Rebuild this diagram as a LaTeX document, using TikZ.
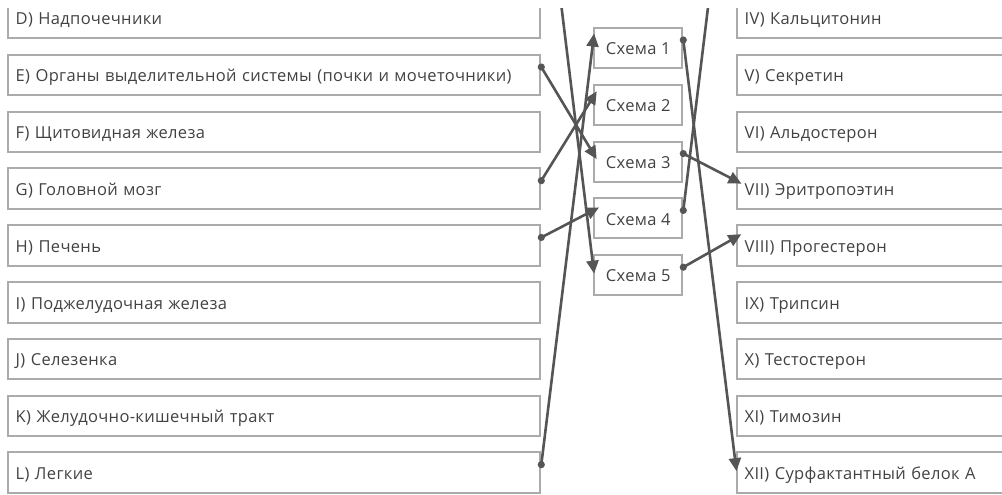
\documentclass[tikz,border=0pt]{standalone}
\usepackage{fontspec}
\setmainfont{Open Sans}[LetterSpace=2]
\usetikzlibrary{arrows.meta,calc}
\definecolor{boxgray}{HTML}{ABABAB}
\definecolor{txtgray}{HTML}{424242}
\definecolor{linegray}{HTML}{555555}
\tikzset{
  boxbase/.style={draw=boxgray, line width=2pt, inner ysep=0pt, inner xsep=8pt, text=txtgray,
    font=\fontsize{16.5}{19}\selectfont, text height=13.5pt, text depth=0pt, anchor=north west},
  lbox/.style={boxbase, minimum height=40.5pt, text width=516.6pt, align=left},
  rbox/.style={boxbase, minimum height=40.5pt, text width=284pt, align=left},
  mbox/.style={boxbase, minimum height=40pt, minimum width=88pt, inner xsep=0pt, align=center},
  conn/.style={draw=linegray, line width=2.6pt, -{Triangle[length=13pt,width=12pt]}, shorten >=-6.5pt},
  dotm/.style={fill=linegray}
}
\begin{document}
\begin{tikzpicture}[x=1pt,y=-1pt]
\useasboundingbox (0,0) rectangle (1002,495);
\clip (-1,9) rectangle (1003,496);
% left column
\node[lbox] (D) at (6.7,-3.0) {D) Надпочечники};
\node[lbox] (E) at (6.7,53.8) {E) Органы выделительной системы (почки и мочеточники)};
\node[lbox] (F) at (6.7,110.6) {F) Щитовидная железа};
\node[lbox] (G) at (6.7,167.4) {G) Головной мозг};
\node[lbox] (H) at (6.7,224.2) {H) Печень};
\node[lbox] (I) at (6.7,281.0) {I) Поджелудочная железа};
\node[lbox] (J) at (6.7,337.8) {J) Селезенка};
\node[lbox] (K) at (6.7,394.6) {K) Желудочно-кишечный тракт};
\node[lbox] (L) at (6.7,451.4) {L) Легкие};
% middle column
\node[mbox] (S1) at (593.3,27.0) {Схема 1};
\node[mbox] (S2) at (593.3,83.8) {Схема 2};
\node[mbox] (S3) at (593.3,140.6) {Схема 3};
\node[mbox] (S4) at (593.3,197.4) {Схема 4};
\node[mbox] (S5) at (593.3,254.2) {Схема 5};
% right column
\node[rbox] (R4) at (735.7,-3.0) {IV) Кальцитонин};
\node[rbox] (R5) at (735.7,53.8) {V) Секретин};
\node[rbox] (R6) at (735.7,110.6) {VI) Альдостерон};
\node[rbox] (R7) at (735.7,167.4) {VII) Эритропоэтин};
\node[rbox] (R8) at (735.7,224.2) {VIII) Прогестерон};
\node[rbox] (R9) at (735.7,281.0) {IX) Трипсин};
\node[rbox] (R10) at (735.7,337.8) {X) Тестостерон};
\node[rbox] (R11) at (735.7,394.6) {XI) Тимозин};
\node[rbox] (R12) at (735.7,451.4) {XII) Сурфактантный белок А};
% connection points
\foreach \n in {E,G,H,L,S1,S3,S4,S5}{\coordinate (\n o) at ([yshift=8pt]\n.east);}
\foreach \n in {S1,S2,S3,S4,S5,R7,R8,R12}{\coordinate (\n i) at ([yshift=8pt]\n.west);}
\coordinate (srcA) at (553.3,-60);
\coordinate (tgtB) at (716.2,-60);
% connectors
\draw[conn] (srcA) -- (S5i);
\draw[conn] (S4o) -- (tgtB);
\draw[conn] (Eo) -- (S3i);
\draw[conn] (Go) -- (S2i);
\draw[conn] (Ho) -- (S4i);
\draw[conn] (Lo) -- (S1i);
\draw[conn] (S1o) -- (R12i);
\draw[conn] (S3o) -- (R7i);
\draw[conn] (S5o) -- (R8i);
\foreach \n in {E,G,H,L,S1,S3,S4,S5}{\fill[dotm] (\n o) circle (3.6pt);}
\end{tikzpicture}
\end{document}
